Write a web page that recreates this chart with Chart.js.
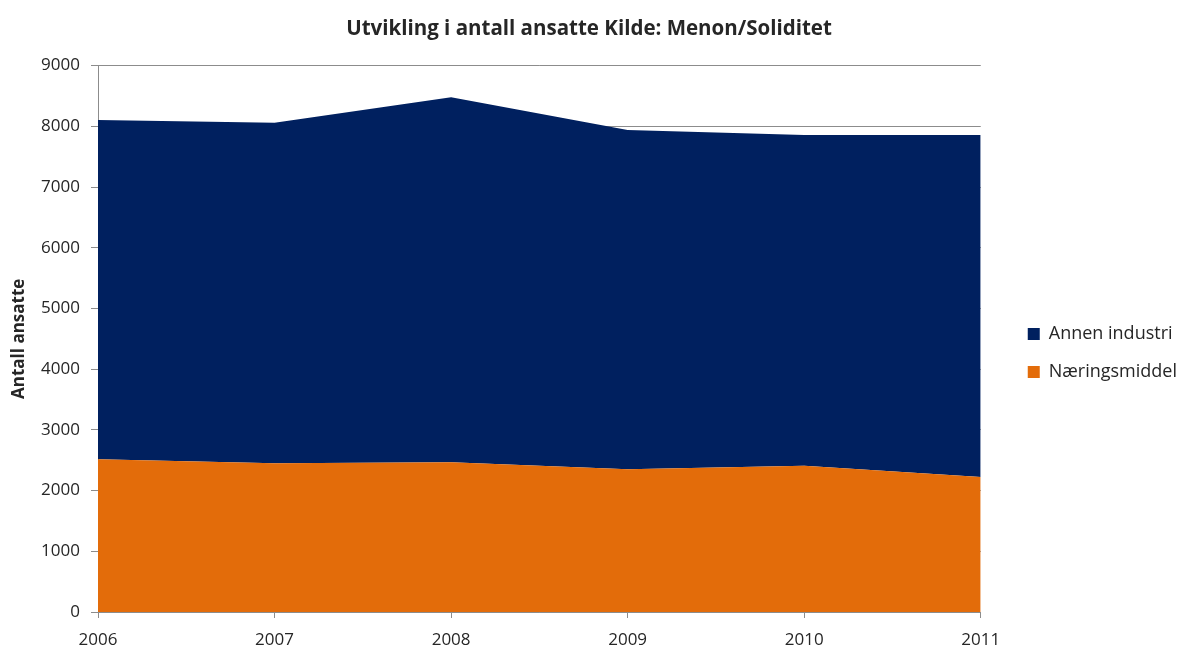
<!DOCTYPE html>
<html lang="no">
<head>
    <meta charset="UTF-8">
    <title>Utvikling i antall ansatte</title>
    <script src="https://cdn.jsdelivr.net/npm/chart.js"></script>
    <style>
        html, body {
            margin: 0;
            padding: 0;
            background: #ffffff;
        }

        #chart-container {
            width: 1177px;
            height: 646px;
        }
    </style>
</head>
<body>
    <div id="chart-container">
        <canvas id="ansatteChart"></canvas>
    </div>

    <script>
        // data
        const years = ['2006', '2007', '2008', '2009', '2010', '2011'];
        const naeringsmiddel = [2515, 2450, 2465, 2350, 2410, 2225];
        const annenIndustri = [5590, 5610, 6015, 5590, 5445, 5630];

        const fontFamily = "'Open Sans', Lato, sans-serif";
        const gridColor = '#8c8c8c';
        const textColor = '#262626';

        // nudge legend and title to where the original has them
        const boxShift = {
            id: 'boxShift',
            afterLayout(chart) {
                const lg = chart.legend;
                if (lg) {
                    lg.left += 27;
                    lg.right += 27;
                    lg.top += 30;
                    lg.bottom += 30;
                }
                const tb = chart.titleBlock;
                if (tb) {
                    tb.left += 9;
                    tb.right += 9;
                }
            }
        };

        const ctx = document.getElementById('ansatteChart').getContext('2d');

        const ansatteChart = new Chart(ctx, {
            type: 'line',
            data: {
                labels: years,
                datasets: [
                    {
                        label: 'Næringsmiddel',
                        data: naeringsmiddel,
                        backgroundColor: '#e36c0a',
                        borderColor: '#e36c0a',
                        borderWidth: 0,
                        pointRadius: 0,
                        tension: 0,
                        fill: 'origin'
                    },
                    {
                        label: 'Annen industri',
                        data: annenIndustri,
                        backgroundColor: '#00205f',
                        borderColor: '#00205f',
                        borderWidth: 0,
                        pointRadius: 0,
                        tension: 0,
                        fill: '-1'
                    }
                ]
            },
            options: {
                responsive: true,
                maintainAspectRatio: false,
                animation: false,
                layout: {
                    padding: { top: 0, right: 17, bottom: 0, left: 0 }
                },
                plugins: {
                    title: {
                        display: true,
                        text: 'Utvikling i antall ansatte Kilde: Menon/Soliditet',
                        color: textColor,
                        font: { family: fontFamily, size: 20.5, weight: 'bold' },
                        padding: { top: 17, bottom: 24 }
                    },
                    legend: {
                        display: true,
                        position: 'right',
                        reverse: true,
                        labels: {
                            color: textColor,
                            font: { family: fontFamily, size: 18 },
                            boxWidth: 12,
                            boxHeight: 12,
                            padding: 20
                        }
                    },
                    tooltip: { enabled: false }
                },
                scales: {
                    x: {
                        offset: false,
                        grid: {
                            drawOnChartArea: false,
                            drawTicks: true,
                            tickLength: 6,
                            color: gridColor
                        },
                        border: { color: gridColor },
                        ticks: {
                            color: textColor,
                            font: { family: fontFamily, size: 17 },
                            padding: 12,
                            maxRotation: 0
                        },
                        afterFit: function (scale) {
                            scale.height = 34;
                        }
                    },
                    y: {
                        stacked: true,
                        min: 0,
                        max: 9000,
                        grid: {
                            color: gridColor,
                            tickLength: 7
                        },
                        border: { color: gridColor },
                        ticks: {
                            stepSize: 1000,
                            color: textColor,
                            font: { family: fontFamily, size: 17 },
                            padding: 11,
                            callback: function (value) {
                                return String(value);
                            }
                        },
                        title: {
                            display: true,
                            text: 'Antall ansatte',
                            color: textColor,
                            font: { family: fontFamily, size: 17, weight: 'bold' },
                            padding: { top: 9, bottom: 4 }
                        },
                        afterFit: function (scale) {
                            scale.width = 98;
                        }
                    }
                }
            },
            plugins: [boxShift]
        });
    </script>
</body>
</html>
